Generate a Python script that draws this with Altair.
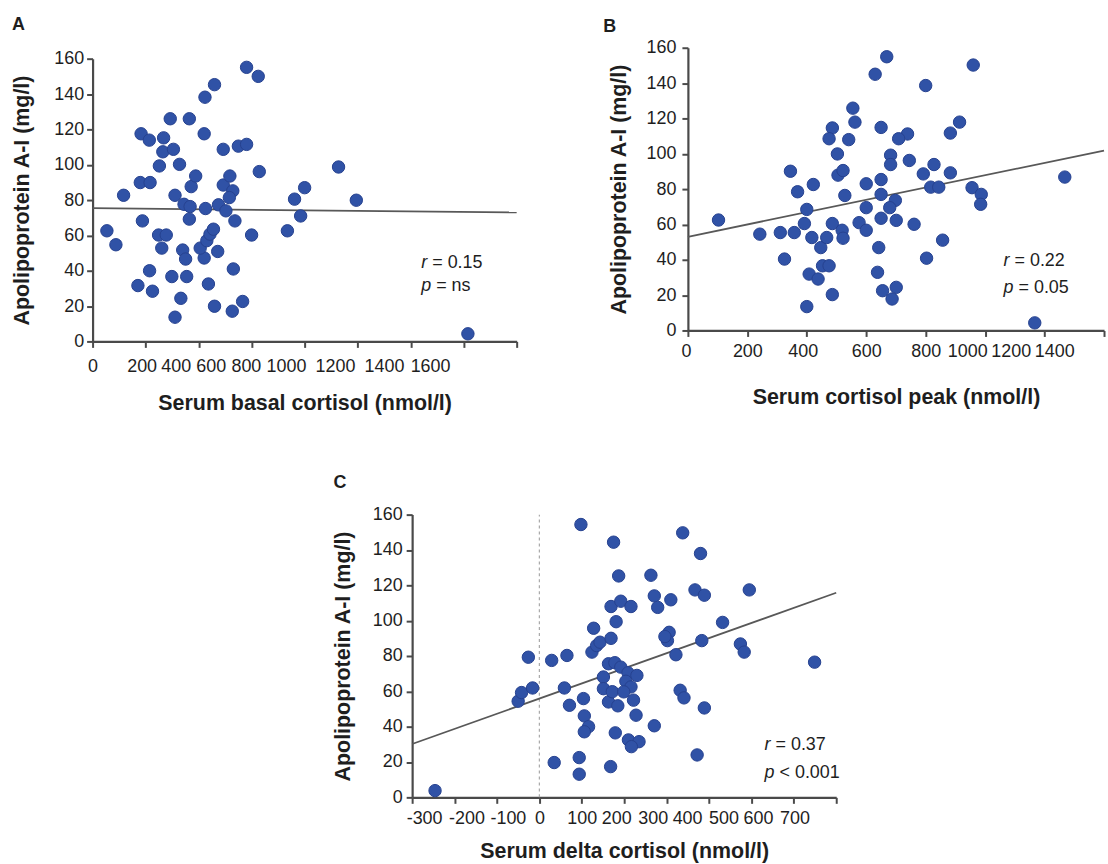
import altair as alt
import pandas as pd

FONT = "Liberation Sans"
BLUE = "#3052a6"
EDGE = "#26428f"
AXIS = "#4a4a4a"
TXT = "#1e1e1e"
LINE = "#585858"

Y_TITLE = "Apolipoprotein A-I (mg/l)"
Y_TICKS = [0, 20, 40, 60, 80, 100, 120, 140, 160]

# ---------------- Panel A : basal cortisol ----------------
a_x = [54, 88, 117, 183, 214, 180, 217, 188, 171, 215, 226, 268, 265, 305, 252,
       293, 328, 311, 249, 278, 261, 299, 311, 333, 340, 351, 355, 365, 372, 389,
       345, 368, 365, 424, 460, 421, 426, 421, 406, 431, 443, 456, 437, 472, 460,
       493, 475, 503, 493, 518, 529, 516, 537, 531, 527, 566, 550, 581, 581, 625,
       600, 629, 735, 762, 800, 785, 928, 995, 1416]
a_y = [62.6, 54.7, 82.7, 117.5, 113.9, 89.9, 89.9, 68.2, 31.6, 40.0, 28.4, 115.2, 107.3, 108.7, 99.3,
       126.0, 100.2, 82.7, 60.2, 60.2, 52.8, 36.7, 13.7, 24.4, 51.7, 46.6, 36.7, 126.0, 87.6, 93.6,
       77.6, 76.3, 69.2, 138.2, 145.3, 117.5, 75.2, 47.2, 52.8, 57.0, 60.7, 63.5, 32.5, 50.9, 19.9,
       108.7, 77.3, 73.9, 88.5, 93.6, 85.2, 81.4, 68.2, 41.0, 17.1, 22.6, 110.5, 111.5, 155.1, 150.0,
       60.2, 96.1, 62.6, 80.5, 87.0, 71.0, 98.7, 79.9, 4.3]
a_line_x = [0, 1600]
a_line_y = [75.4, 73.0]
a_xticks = [0, 200, 400, 600, 800, 1000, 1200, 1400, 1600]
a_stat_x = [1240, 1240]
a_stat_y = [44.5, 31.5]
a_stat_sym = ["r", "p"]
a_stat_val = ["= 0.15", "= ns"]

# ---------------- Panel B : cortisol peak ----------------
b_x = [103, 242, 311, 358, 325, 345, 369, 422, 400, 392, 417, 447, 467, 408, 438,
       453, 475, 486, 400, 486, 475, 503, 505, 522, 528, 486, 519, 522, 541, 555,
       562, 576, 600, 600, 600, 630, 650, 650, 650, 650, 642, 638, 655, 669, 800,
       960, 914, 883, 739, 709, 682, 682, 745, 792, 828, 883, 817, 844, 956, 987,
       985, 1268, 698, 679, 701, 761, 857, 803, 701, 687, 1167]
b_y = [62.5, 54.5, 55.4, 55.4, 40.4, 90.1, 78.5, 82.6, 68.5, 60.5, 52.6, 46.9, 52.6, 31.9, 29.1,
       36.6, 36.6, 20.3, 13.5, 114.6, 108.5, 99.9, 87.9, 90.5, 76.4, 60.5, 56.7, 52.2, 108.0, 125.8,
       117.9, 61.0, 56.7, 83.0, 69.5, 145.0, 114.9, 85.4, 77.0, 63.5, 46.9, 32.9, 22.5, 154.9, 138.6,
       150.2, 117.9, 111.7, 111.2, 108.5, 99.2, 93.9, 96.2, 88.6, 93.9, 89.2, 81.1, 81.1, 80.8, 77.0,
       71.4, 86.8, 73.6, 69.5, 62.3, 60.1, 51.1, 40.9, 24.4, 17.8, 4.3]
b_line_x = [0, 1400]
b_line_y = [53.0, 101.8]
b_xticks = [0, 200, 400, 600, 800, 1000, 1200, 1400]
b_stat_x = [1062, 1062]
b_stat_y = [39.4, 24.2]
b_stat_sym = ["r", "p"]
b_stat_val = ["= 0.22", "= 0.05"]

# ---------------- Panel C : delta cortisol ----------------
c_x = [-246, -50, -42, -16, -26, 29, 65, 59, 71, 104, 106, 116, 106, 35, 94,
       94, 98, 128, 124, 135, 143, 169, 175, 187, 169, 192, 216, 181, 151, 151,
       163, 178, 163, 172, 179, 168, 185, 192, 209, 230, 204, 216, 199, 222, 228,
       271, 210, 235, 217, 263, 271, 279, 310, 338, 380, 367, 389, 495, 432, 306,
       302, 296, 322, 383, 474, 483, 649, 332, 341, 389, 372]
c_y = [3.8, 54.4, 59.3, 61.9, 79.3, 77.5, 80.3, 61.9, 52.1, 55.9, 46.1, 40.0, 37.1, 19.7, 22.5,
       13.1, 154.4, 95.7, 82.2, 85.9, 87.8, 90.0, 144.4, 125.3, 108.0, 111.0, 108.0, 99.4, 68.1, 61.5,
       75.6, 76.2, 54.0, 59.8, 36.5, 17.4, 51.8, 73.7, 70.5, 69.0, 65.7, 62.5, 59.7, 55.0, 46.5,
       40.5, 32.5, 31.5, 28.7, 125.7, 114.0, 107.5, 111.8, 149.7, 138.0, 117.4, 114.4, 117.4, 99.0, 93.4,
       88.7, 91.0, 80.7, 88.7, 86.8, 82.2, 76.5, 60.6, 56.3, 50.6, 24.0]
c_line_x = [-300, 700]
c_line_y = [30.2, 115.8]
c_xticks = [-300, -200, -100, 0, 100, 200, 300, 400, 500, 600, 700]
c_zero_x = [0]
c_zero_y = [0]
c_zero_y2 = [160]
c_stat_x = [531, 531]
c_stat_y = [29.4, 13.7]
c_stat_sym = ["r", "p"]
c_stat_val = ["= 0.37", "< 0.001"]

# Styling: the original figure's x tick labels are not centred on their ticks
# (they are packed together); these are the horizontal label shifts in pixels.
A_LABEL_SHIFT = {200: -4, 400: -23, 600: -41, 800: -59, 1000: -72, 1200: -76,
                 1400: -80, 1600: -87}
B_LABEL_SHIFT = {0: -2, 400: -4, 1000: -18, 1200: -34, 1400: -50}
C_LABEL_SHIFT = {-300: 12, -200: 12, -100: 11, 200: -8, 300: -14, 400: -22,
                 500: -28, 600: -36, 700: -42}

# panel C sits 321 px to the right of panel A's left edge (same grid column)
C_SHIFT = 321


def label_shift(shifts):
    return {"condition": [{"test": "datum.value == %s" % k, "value": v}
                          for k, v in shifts.items()],
            "value": 0}


def panel(xs, ys, lx, ly, sx, sy, ssym, sval, xdom, xticks, xshift, xtitle, letter,
          w, h, xrange, yrange, yaxis_offset, xlab_pad, xtitle_pad, ylab_pad, ytitle_pad,
          title_offset, title_dx, title_frame, zero=None):
    yscale_kw = dict(domain=[0, 160], nice=False, zero=False)
    if yrange is not None:
        yscale_kw["range"] = yrange
    xscale_kw = dict(domain=xdom, nice=False, zero=False)
    if xrange is not None:
        xscale_kw["range"] = xrange
    xaxis = alt.Axis(values=xticks, title=xtitle, grid=False, labelFlush=False,
                     labelOverlap=False, labelExpr="'' + datum.value",
                     labelOffset=label_shift(xshift),
                     labelPadding=xlab_pad, titlePadding=xtitle_pad, tickSize=6)
    yaxis_kw = dict(values=Y_TICKS, title=Y_TITLE, grid=False, labelFlush=False,
                    labelOverlap=False, labelExpr="'' + datum.value",
                    labelPadding=ylab_pad, titlePadding=ytitle_pad, tickSize=6)
    if yaxis_offset:
        yaxis_kw["offset"] = yaxis_offset
    yaxis = alt.Axis(**yaxis_kw)
    X = alt.X("x:Q", scale=alt.Scale(**xscale_kw), axis=xaxis)
    Y = alt.Y("y:Q", scale=alt.Scale(**yscale_kw), axis=yaxis)

    layers = []
    if zero is not None:
        zdf = pd.DataFrame({"x": zero[0], "y": zero[1], "y2": zero[2]})
        layers.append(alt.Chart(zdf).mark_rule(color="#a8a8a8", strokeDash=[3, 3],
                                                strokeWidth=1.2)
                      .encode(x=X, y=Y, y2="y2:Q"))
    ldf = pd.DataFrame({"x": lx, "y": ly})
    layers.append(alt.Chart(ldf).mark_line(color=LINE, strokeWidth=1.8)
                  .encode(x=X, y=Y))
    pdf = pd.DataFrame({"x": xs, "y": ys})
    layers.append(alt.Chart(pdf).mark_circle(size=155, color=BLUE, opacity=1,
                                             stroke=EDGE, strokeWidth=1)
                  .encode(x=X, y=Y))
    sdf = pd.DataFrame({"x": sx, "y": sy, "sym": ssym, "val": sval})
    layers.append(alt.Chart(sdf).mark_text(align="left", baseline="middle", font=FONT,
                                           fontSize=18, fontStyle="italic", color=TXT)
                  .encode(x=X, y=Y, text="sym:N"))
    layers.append(alt.Chart(sdf).transform_filter("datum.sym == 'r'")
                  .mark_text(align="left", baseline="middle", font=FONT, fontSize=18,
                             color=TXT, dx=11)
                  .encode(x=X, y=Y, text="val:N"))
    layers.append(alt.Chart(sdf).transform_filter("datum.sym == 'p'")
                  .mark_text(align="left", baseline="middle", font=FONT, fontSize=18,
                             color=TXT, dx=15)
                  .encode(x=X, y=Y, text="val:N"))
    return alt.layer(*layers).properties(
        width=w, height=h,
        title=alt.TitleParams(letter, anchor="start", frame=title_frame, offset=title_offset,
                              dx=title_dx, font=FONT, fontSize=18, fontWeight="bold",
                              color=TXT))


A = panel(a_x, a_y, a_line_x, a_line_y, a_stat_x, a_stat_y, a_stat_sym, a_stat_val,
          [0, 1600], a_xticks, A_LABEL_SHIFT, "Serum basal cortisol (nmol/l)", "A",
          426, 295, None, [295, 11], 0, 10, 17, 3, 20, 14, 0, "bounds")
B = panel(b_x, b_y, b_line_x, b_line_y, b_stat_x, b_stat_y, b_stat_sym, b_stat_val,
          [0, 1400], b_xticks, B_LABEL_SHIFT, "Serum cortisol peak (nmol/l)", "B",
          418, 284, None, None, 0, 6, 26, 6, 16, 3, -5, "bounds")
C = panel(c_x, c_y, c_line_x, c_line_y, c_stat_x, c_stat_y, c_stat_sym, c_stat_val,
          [-300, 700], c_xticks, C_LABEL_SHIFT, "Serum delta cortisol (nmol/l)", "C",
          426, 284, [C_SHIFT, C_SHIFT + 426], None, -C_SHIFT, 6, 13, 4, 18, 14,
          C_SHIFT - 79, "group",
          zero=(c_zero_x, c_zero_y, c_zero_y2))

chart = alt.concat(
    A, B, C, columns=2,
    spacing={"row": 174, "column": 172},
    bounds="flush",
).properties(
    padding={"left": 11, "top": 14, "right": 0, "bottom": 0},
    background="white",
).configure_view(stroke=None).configure_axis(
    domainColor=AXIS, domainWidth=2.2, tickColor=AXIS, tickWidth=2,
    labelFont=FONT, labelFontSize=18, labelColor=TXT,
    titleFont=FONT, titleFontSize=21.5, titleFontWeight="bold", titleColor=TXT,
)

chart.save("out.html", embed_options={"renderer": "svg", "actions": False})
